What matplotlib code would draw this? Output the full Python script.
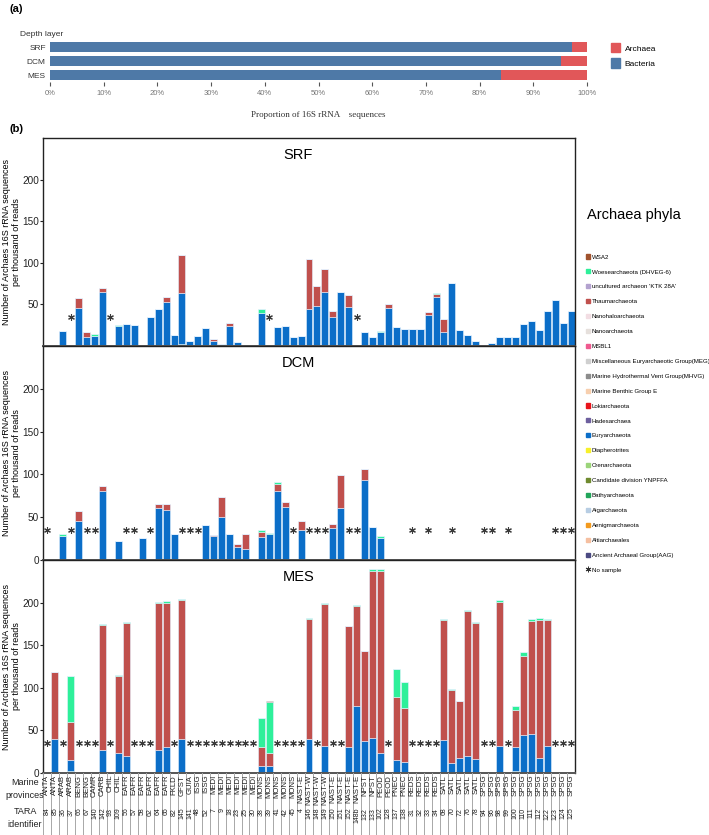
import matplotlib
matplotlib.use('Agg')
import matplotlib.pyplot as plt
from matplotlib.patches import Patch
from matplotlib.lines import Line2D
import numpy as np

plt.rcParams['font.family'] = ['Liberation Sans', 'DejaVu Sans']

# ---- panel (a): proportion of 16S rRNA sequences
layers = ['SRF', 'DCM', 'MES']
bacteria_pct = [97.2, 95.2, 83.9]
archaea_pct = [2.8, 4.8, 16.1]

# ---- panel (b): stations
provinces = ['ANTA', 'ANTA', 'ARAB', 'ARAB', 'BENG', 'BENG', 'CAMR', 'CARB', 'CHIL', 'CHIL',
             'EAFR', 'EAFR', 'EAFR', 'EAFR', 'EAFR', 'EAFR', 'FKLD', 'GFST', 'GUIA', 'ISSG',
             'ISSG', 'MEDI', 'MEDI', 'MEDI', 'MEDI', 'MEDI', 'MEDI', 'MONS', 'MONS', 'MONS',
             'MONS', 'MONS', 'NAST-E', 'NAST-W', 'NAST-W', 'NAST-W', 'NAST-E', 'NAST-E', 'NAST-E', 'NAST-E',
             'NPST', 'NPST', 'PEOD', 'PEOD', 'PNEC', 'PNEC', 'REDS', 'REDS', 'REDS', 'REDS',
             'SATL', 'SATL', 'SATL', 'SATL', 'SATL', 'SPSG', 'SPSG', 'SPSG', 'SPSG', 'SPSG',
             'SPSG', 'SPSG', 'SPSG', 'SPSG', 'SPSG', 'SPSG', 'SPSG']
tara_ids = ['84', '85', '36', '37', '66', '67', '140', '142', '93', '109',
            '56', '57', '58', '62', '64', '65', '82', '145', '141', '48',
            '52', '7', '9', '18', '23', '25', '30', '38', '39', '41',
            '42', '45', '4', '146', '148', '149', '150', '151', '152', '148b',
            '132', '133', '102', '128', '137', '138', '31', '32', '33', '34',
            '68', '70', '72', '76', '78', '94', '96', '98', '99', '100',
            '110', '111', '112', '122', '123', '124', '125']

# legend order (top to bottom); bars stack in the reverse order
phyla = ['WSA2', 'Woesearchaeota (DHVEG-6)', "uncultured archaeon 'KTK 28A'", 'Thaumarchaeota',
         'Nanohaloarchaeota', 'Nanoarchaeota', 'MSBL1', 'Miscellaneous Euryarchaeotic Group(MEG)',
         'Marine Hydrothermal Vent Group(MHVG)', 'Marine Benthic Group E', 'Lokiarchaeota',
         'Hadesarchaea', 'Euryarchaeota', 'Diapherotrites', 'Crenarchaeota',
         'Candidate division YNPFFA', 'Bathyarchaeota', 'Aigarchaeota', 'Aenigmarchaeota',
         'Altiarchaeales', 'Ancient Archaeal Group(AAG)']
phyla_colors = ['#a0522d', '#2ef09a', '#b3a2cf', '#c0504d', '#f2dde3', '#e6e0dc', '#ef5a8f',
                '#cfcfcf', '#8c8c8c', '#f7cfae', '#e8141b', '#6d5f9e', '#0b6ec8', '#f7f02a',
                '#9bd47a', '#6f8a2e', '#22a55a', '#b7cde3', '#f39a1e', '#f5bfa0', '#4b4a82']

# SRF (reads per thousand)
srf_eury = [0, 0, 18, 0, 46, 10.5, 12.5, 65, 0, 24,
            26, 25, 0, 35, 44, 52.5, 13, 62, 6, 12.5,
            22, 6, 2.5, 24, 5, 0, 0, 40, 0, 23,
            24, 10.5, 12.5, 45, 48.5, 65.5, 34.5, 65, 46.5, 0,
            17, 11, 17, 46, 23, 20.5, 20.5, 20.5, 37, 58.5,
            16.5, 76, 19, 13, 6, 0, 4, 10.5, 10.5, 10.5,
            26, 30, 19, 42.5, 55.5, 28, 41.5]
srf_thaum = [0, 0, 0, 0, 12, 6, 0, 5, 0, 0,
             0, 0, 0, 0, 1, 6, 0, 45, 0, 0,
             0, 2, 0, 4, 0, 0, 0, 0, 0, 0,
             0, 0, 0, 59, 24, 27, 7, 0, 15, 0,
             0, 0, 0, 4, 0, 0, 0, 0, 4, 4,
             15.5, 0, 0, 0, 0, 0, 0, 0, 0, 0,
             0, 0, 0, 0, 0, 0, 0]
srf_woese = [0, 0, 0, 0, 0, 0, 2.5, 0, 0, 0.8,
             0, 0, 0, 0, 0, 0, 0, 0, 0, 0,
             0, 0, 0, 0, 0, 0, 0, 5, 0, 0,
             0, 0, 0, 0, 0, 0, 0, 0, 0, 0,
             0, 0, 0.6, 0, 0, 0, 0, 0, 0, 1.6,
             0, 0, 0, 0, 0, 0, 0, 0, 0, 0,
             0, 0, 0, 0, 0, 0, 0]
srf_bathy = [0] * 17 + [2] + [0] * 49
srf_wsa2 = [0] * 67
srf_no_sample = [3, 8, 28, 39]

# DCM
dcm_eury = [0, 0, 28, 0, 45, 0, 0, 81, 0, 22,
            0, 0, 26, 0, 60.5, 58, 30, 0, 0, 0,
            41, 28, 49, 30, 15, 12.5, 0, 27, 30, 81,
            61.5, 0, 35, 0, 0, 0, 37, 60.5, 0, 0,
            94, 38, 26, 0, 0, 0, 0, 0, 0, 0,
            0, 0, 0, 0, 0, 0, 0, 0, 0, 0,
            0, 0, 0, 0, 0, 0, 0]
dcm_thaum = [0, 1, 0, 0, 12, 0, 0, 6, 0, 0,
             0, 0, 0, 0, 5, 8, 0, 0, 0, 0,
             0, 1, 24, 0, 4, 18, 0, 6, 0, 8,
             6.5, 0, 10, 0, 0, 0, 5, 39, 0, 0,
             12, 0, 0, 0, 0, 0, 0, 0, 0, 0,
             0, 0, 0, 0, 0, 0, 0, 0, 0, 0,
             0, 0, 0, 0, 0, 0, 0]
dcm_woese = [0, 0, 2, 0, 0, 0, 0, 0, 0, 0,
             0, 0, 0, 0, 0, 0, 0, 0, 0, 0,
             0, 0, 0, 0, 0, 0, 0, 2, 2, 2,
             0, 0, 0, 0, 0, 0, 0, 0, 0, 0,
             0, 0, 2, 0, 0, 0, 0, 0, 0, 0,
             0, 0, 0, 0, 0, 0, 0, 0, 0, 0,
             0, 0, 0, 0, 0, 0, 0]
dcm_bathy = [0] * 22 + [1] + [0] * 44
dcm_wsa2 = [0] * 67
dcm_no_sample = [0, 3, 5, 6, 10, 11, 13, 17, 18, 19, 31, 33, 34, 35, 38, 39,
                 46, 48, 51, 55, 56, 58, 64, 65, 66]

# MES
mes_eury = [0, 40, 0, 13, 0, 0, 0, 27, 0, 24,
            20, 0, 0, 0, 27, 30, 0, 39, 0, 0,
            0, 0, 0, 0, 0, 0, 0, 8, 8, 0,
            0, 0, 0, 40, 0, 32, 0, 0, 30, 79,
            37, 41, 24, 0, 15, 12, 0, 0, 0, 0,
            39, 12, 18, 20, 16, 0, 0, 32, 0, 29,
            45, 46, 18, 32, 0, 0, 0]
mes_thaum = [0, 78, 0, 45, 0, 0, 0, 147, 0, 90,
             156, 0, 0, 0, 172, 170, 0, 163, 0, 0,
             0, 0, 0, 0, 0, 0, 0, 22, 15, 0,
             0, 0, 0, 141, 0, 166, 0, 0, 142, 117,
             106, 196, 213, 0, 74, 63, 0, 0, 0, 0,
             141, 86, 66, 170, 160, 0, 0, 169, 0, 43,
             92, 132, 162, 147, 0, 0, 0]
mes_woese = [0, 1, 0, 54, 0, 0, 0, 1, 0, 1,
             1.5, 0, 0, 0, 1.5, 1.5, 0, 1.5, 0, 0,
             0, 0, 0, 0, 0, 0, 0, 34, 60, 0,
             0, 0, 0, 0.5, 0, 1, 0, 0, 1, 1,
             0.5, 3, 3, 0, 33, 31, 0, 0, 0, 0,
             1, 1, 0.5, 1.5, 1, 0, 0, 1.5, 0, 5,
             5, 3, 2, 2, 0, 0, 0]
mes_bathy = [0, 0, 0, 2, 0, 0, 0, 0, 0, 0,
             0, 0, 0, 0, 0, 0, 0, 1, 0, 0,
             0, 0, 0, 0, 0, 0, 0, 0, 0, 0,
             0, 0, 0, 0, 0, 0, 0, 0, 0, 0,
             0, 0, 0, 0, 0, 1, 0, 0, 0, 0,
             0, 0, 0, 0, 0, 0, 0, 0, 0, 2,
             0, 0, 0, 0, 0, 0, 0]
mes_wsa2 = [0] * 28 + [1] + [0] * 38
mes_no_sample = [0, 2, 4, 5, 6, 8, 11, 12, 13, 16, 18, 19, 20, 21, 22, 23, 24, 25, 26,
                 29, 30, 31, 32, 34, 36, 37, 43, 46, 47, 48, 49, 55, 56, 58, 64, 65, 66]

COLOR = dict(zip(phyla, phyla_colors))
W, H = 709, 835


def fig_rect(x0, y0, x1, y1):
    # pixel box (top-left origin) -> figure fraction rect
    return [x0 / W, 1 - y1 / H, (x1 - x0) / W, (y1 - y0) / H]


def plot_layer(ax, name, stacks, no_sample, show_zero=True):
    x = np.arange(len(provinces))
    bottom = np.zeros(len(x))
    for phylum, values in stacks:
        values = np.array(values, dtype=float)
        ax.bar(x, values, bottom=bottom, width=0.88, color=COLOR[phylum],
               edgecolor='#e4f2ff', linewidth=0.4)
        bottom += values
    ax.scatter(no_sample, [35] * len(no_sample), marker=(6, 2, 0), s=18,
               color='#3a3a3a', linewidths=0.8, zorder=3)
    ax.set_xlim(-0.5, len(x) - 0.5)
    ax.set_ylim(0, 250)
    ax.set_xticks([])
    ax.set_yticks([0, 50, 100, 150, 200] if show_zero else [50, 100, 150, 200])
    ax.tick_params(axis='y', labelsize=7.2, length=2, width=0.8, pad=1, colors='#222222')
    for s in ax.spines.values():
        s.set_color('#222222')
        s.set_linewidth(1.0)
    ax.spines['bottom'].set_color('#555555')
    ax.spines['bottom'].set_linewidth(1.4)
    ax.text(0.48, 0.92, name, transform=ax.transAxes, ha='center', va='center', fontsize=10.5)
    ax.set_ylabel('Number of Archaes 16S rRNA sequences\nper thousand of reads',
                  fontsize=6.5, linespacing=1.1)
    ax.yaxis.set_label_coords(-0.042, 0.5)


fig = plt.figure(figsize=(W / 100, H / 100), dpi=100)

# ---------- (a)
fig.text(10 / W, 1 - 9 / H, '(a)', fontsize=8, fontweight='bold', va='center')
ax_a = fig.add_axes(fig_rect(50, 40, 587, 82))
ya = np.arange(len(layers))
ax_a.barh(ya, bacteria_pct, height=0.78, color='#4e79a7')
ax_a.barh(ya, archaea_pct, left=bacteria_pct, height=0.78, color='#e15759')
ax_a.set_ylim(2.5, -0.5)
ax_a.set_xlim(0, 100)
for s in ax_a.spines.values():
    s.set_visible(False)
ax_a.set_yticks(ya)
ax_a.set_yticklabels(layers, fontsize=6, color='#333333')
ax_a.tick_params(axis='y', length=0, pad=3)
ax_a.set_xticks(np.arange(0, 101, 10))
ax_a.set_xticklabels(['{}%'.format(v) for v in range(0, 101, 10)], fontsize=5.5, color='#777777')
ax_a.tick_params(axis='x', length=3, width=0.8, color='#555555', pad=3)
fig.text(20 / W, 1 - 35 / H, 'Depth layer', fontsize=6, color='#333333', va='center')
fig.text(318 / W, 1 - 115 / H, 'Proportion of 16S rRNA    sequences', fontsize=6.5,
         family=['Liberation Serif', 'DejaVu Serif'], ha='center', va='center', color='#333333')
fig.legend(handles=[Patch(color='#e15759', label='Archaea'), Patch(color='#4e79a7', label='Bacteria')],
           loc='upper left', bbox_to_anchor=(608 / W, 1 - 40 / H), frameon=False, fontsize=6,
           handlelength=1.0, handleheight=1.3, handletextpad=0.6, labelspacing=0.7, borderaxespad=0)

# ---------- (b)
fig.text(10 / W, 1 - 129 / H, '(b)', fontsize=8, fontweight='bold', va='center')
ax_srf = fig.add_axes(fig_rect(43, 138, 575, 346))
ax_dcm = fig.add_axes(fig_rect(43, 346, 575, 560))
ax_mes = fig.add_axes(fig_rect(43, 560, 575, 773))

layer_data = [
    (ax_srf, 'SRF', srf_bathy, srf_eury, srf_thaum, srf_woese, srf_wsa2, srf_no_sample, False),
    (ax_dcm, 'DCM', dcm_bathy, dcm_eury, dcm_thaum, dcm_woese, dcm_wsa2, dcm_no_sample, True),
    (ax_mes, 'MES', mes_bathy, mes_eury, mes_thaum, mes_woese, mes_wsa2, mes_no_sample, True),
]
for ax, name, bathy, eury, thaum, woese, wsa2, nos, zero in layer_data:
    stacks = [('Bathyarchaeota', bathy), ('Euryarchaeota', eury), ('Thaumarchaeota', thaum),
              ('Woesearchaeota (DHVEG-6)', woese), ('WSA2', wsa2)]
    plot_layer(ax, name, stacks, nos, show_zero=zero)

# station table below the MES panel
ax_tab = fig.add_axes(fig_rect(43, 773, 575, 835))
ax_tab.set_xlim(-0.5, len(provinces) - 0.5)
ax_tab.set_ylim(0, 1)
ax_tab.axis('off')
for b in np.arange(-0.5, len(provinces)):
    ax_tab.axvline(b, color='#a8a8a8', linewidth=0.7)
for i, (prov, tid) in enumerate(zip(provinces, tara_ids)):
    ax_tab.text(i, 0.97, prov, rotation=90, ha='center', va='top', fontsize=5.6, color='#222222')
    ax_tab.text(i, 0.44, tid, rotation=90, ha='center', va='top', fontsize=5.0, color='#222222')
fig.text(25 / W, 1 - 789 / H, 'Marine\nprovinces', fontsize=6.5, ha='center', va='center',
         linespacing=1.5, color='#222222')
fig.text(25 / W, 1 - 818 / H, 'TARA\nidentifier', fontsize=6.5, ha='center', va='center',
         linespacing=1.5, color='#222222')

# phyla legend
fig.text(587 / W, 1 - 215 / H, 'Archaea phyla', fontsize=10.5, va='center')
handles = [Patch(color=c, label=p) for p, c in zip(phyla, phyla_colors)]
handles.append(Line2D([], [], marker=(6, 2, 0), linestyle='', color='#333333',
                      markersize=4, markeredgewidth=0.7, label='No sample'))
fig.legend(handles=handles, loc='upper left', bbox_to_anchor=(584 / W, 1 - 252 / H),
           frameon=False, fontsize=4.4, handlelength=0.65, handleheight=0.65,
           handletextpad=0.25, labelspacing=1.59, borderaxespad=0)

fig.savefig('out.png', dpi=100)
